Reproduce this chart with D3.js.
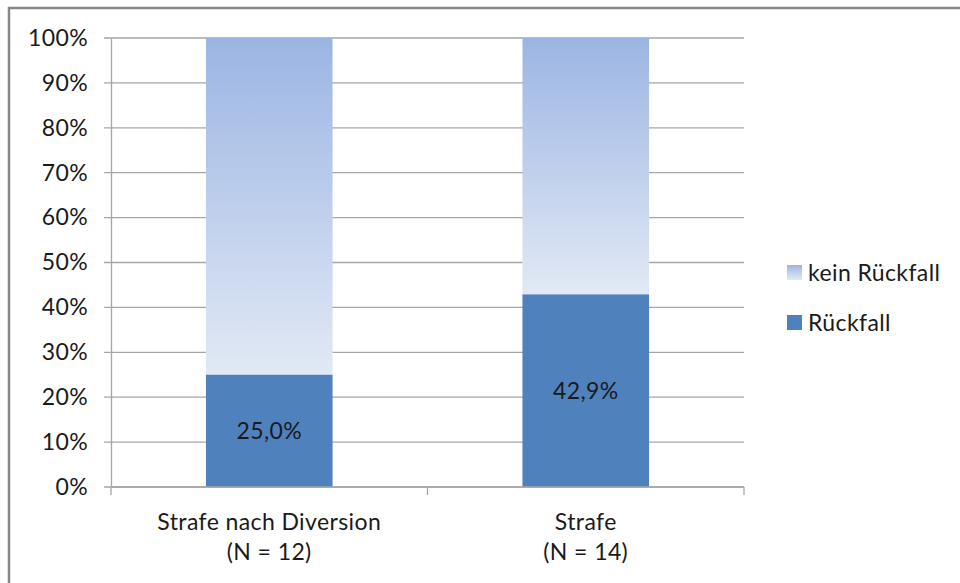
<!DOCTYPE html>
<html>
<head>
<meta charset="utf-8">
<script src="https://cdn.jsdelivr.net/npm/d3@7"></script>
<style>
  body { margin: 0; background: #fff; }
  text { font-family: Lato, sans-serif; fill: #1a1a1a; letter-spacing: 0.4px; }
</style>
</head>
<body>
<div class="chart"></div>
<script>
const categories = ["Strafe nach Diversion", "Strafe"];
const categorySizes = ["(N = 12)", "(N = 14)"];
const rueckfall = [25.0, 42.9];
const keinRueckfall = [75.0, 57.1];
const seriesNames = ["kein Rückfall", "Rückfall"];
const yTicks = [0, 10, 20, 30, 40, 50, 60, 70, 80, 90, 100];

const width = 960, height = 583;
const margin = { left: 111, right: 216, top: 38, bottom: 96 };
const fontSize = "23px";

const svg = d3.select(".chart")
              .append("svg")
                  .attr("width", width)
                  .attr("height", height);

/* Outer frame (only top and left visible in the picture) */
svg.append("rect")
   .attr("x", 9).attr("y", 8)
   .attr("width", width + 20).attr("height", height + 20)
   .attr("fill", "none")
   .attr("stroke", "#888")
   .attr("stroke-width", 2.5);

const defs = svg.append("defs");
const grad = defs.append("linearGradient")
                 .attr("id", "lightGrad")
                 .attr("x1", 0).attr("y1", 0).attr("x2", 0).attr("y2", 1);
grad.append("stop").attr("offset", "0%").attr("stop-color", "#9bb5e3");
grad.append("stop").attr("offset", "100%").attr("stop-color", "#e2e9f5");

const x = d3.scaleBand()
            .domain(categories)
            .range([margin.left, width - margin.right])
            .paddingInner(0.6)
            .paddingOuter(0.3);

const y = d3.scaleLinear()
            .domain([0, 100])
            .range([height - margin.bottom - 0, margin.top]);

/* Gridlines */
svg.append("g")
   .selectAll("line")
   .data(yTicks)
   .enter()
   .append("line")
       .attr("x1", margin.left - 7)
       .attr("x2", width - margin.right)
       .attr("y1", d => y(d))
       .attr("y2", d => y(d))
       .attr("stroke", "#a6a6a6")
       .attr("stroke-width", 1.3);

/* Y axis */
svg.append("g")
   .attr("transform", "translate(" + margin.left + ",0)")
   .call(d3.axisLeft(y).tickValues(yTicks).tickSize(0).tickPadding(23).tickFormat(d => d + "%"))
   .call(g => g.select(".domain").attr("stroke", "#a6a6a6").attr("stroke-width", 1.3))
   .call(g => g.selectAll("text").attr("font-size", fontSize).attr("font-family", "Lato, sans-serif").attr("fill", "#1a1a1a"));

/* Bars */
const stackData = categories.map((c, i) => ({ cat: c, r: rueckfall[i], k: keinRueckfall[i] }));

svg.append("g")
   .selectAll("rect")
   .data(stackData)
   .enter()
   .append("rect")
       .attr("x", d => x(d.cat))
       .attr("width", x.bandwidth())
       .attr("y", d => y(d.r + d.k))
       .attr("height", d => y(d.r) - y(d.r + d.k))
       .attr("fill", "url(#lightGrad)");

svg.append("g")
   .selectAll("rect")
   .data(stackData)
   .enter()
   .append("rect")
       .attr("x", d => x(d.cat))
       .attr("width", x.bandwidth())
       .attr("y", d => y(d.r))
       .attr("height", d => y(0) - y(d.r))
       .attr("fill", "#4f81bd");

svg.append("g")
   .selectAll("text")
   .data(stackData)
   .enter()
   .append("text")
       .attr("x", d => x(d.cat) + x.bandwidth() / 2)
       .attr("y", d => y(d.r / 2))
       .attr("dy", "0.35em")
       .attr("text-anchor", "middle")
       .attr("font-size", fontSize)
       .text(d => d.r.toFixed(1).replace(".", ",") + "%");

/* X axis line with category boundary ticks */
const x0 = margin.left, x1 = width - margin.right;
const step = (x1 - x0) / categories.length;
svg.append("line")
   .attr("x1", x0).attr("x2", x1)
   .attr("y1", y(0)).attr("y2", y(0))
   .attr("stroke", "#a6a6a6").attr("stroke-width", 1.3);
svg.append("g")
   .selectAll("line")
   .data(d3.range(categories.length + 1))
   .enter()
   .append("line")
       .attr("x1", i => x0 + i * step)
       .attr("x2", i => x0 + i * step)
       .attr("y1", y(0))
       .attr("y2", y(0) + 8)
       .attr("stroke", "#a6a6a6").attr("stroke-width", 1.3);

const catLabels = svg.append("g")
   .selectAll("text")
   .data(categories)
   .enter()
   .append("text")
       .attr("x", d => x(d) + x.bandwidth() / 2)
       .attr("y", y(0) + 43)
       .attr("text-anchor", "middle")
       .attr("font-size", fontSize);
catLabels.append("tspan").text(d => d);
catLabels.append("tspan")
         .attr("x", d => x(d) + x.bandwidth() / 2)
         .attr("dy", "1.3em")
         .text((d, i) => categorySizes[i]);

/* Legend */
const legend = svg.append("g")
   .selectAll("g")
   .data(seriesNames)
   .enter()
   .append("g")
       .attr("transform", (d, i) => "translate(787," + (265 + i * 50) + ")");
legend.append("rect")
      .attr("width", 15).attr("height", 15)
      .attr("fill", (d, i) => i === 0 ? "url(#lightGrad)" : "#4f81bd");
legend.append("text")
      .attr("x", 21).attr("y", 8).attr("dy", "0.35em")
      .attr("font-size", fontSize)
      .text(d => d);
</script>
</body>
</html>
